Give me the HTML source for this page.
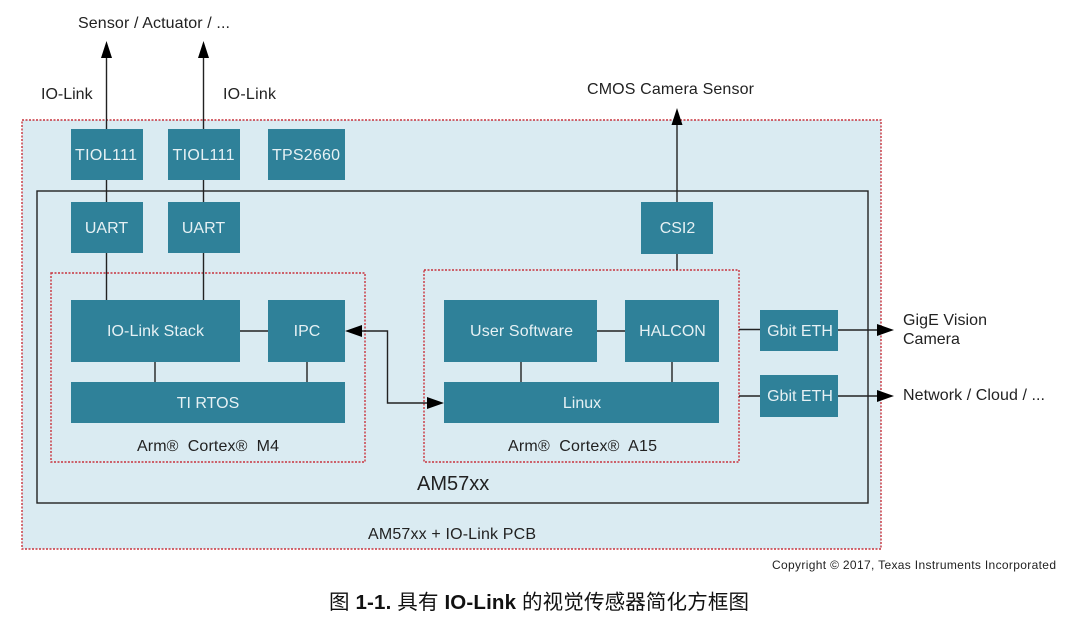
<!DOCTYPE html>
<html><head><meta charset="utf-8"><style>
html,body{margin:0;padding:0;background:#fff}
svg{display:block}
text{font-family:"Liberation Sans","Noto Sans CJK SC",sans-serif;font-size:16px;fill:#222}
.w{fill:#e6f1f4;text-anchor:middle}
.b{fill:#2f8199}
.l{stroke:#222;stroke-width:1.4;fill:none}
.d{stroke:#c8323c;stroke-width:1.4;stroke-dasharray:2 1.5;fill:none}
</style></head><body>
<svg width="1080" height="620" viewBox="0 0 1080 620" xmlns="http://www.w3.org/2000/svg">
<rect width="1080" height="620" fill="#fff"/>
<rect x="22" y="120" width="859" height="429" fill="#daebf2"/>
<rect x="22" y="120" width="859" height="429" class="d"/>
<rect x="37" y="191" width="831" height="312" class="l"/>
<rect x="51" y="273" width="314" height="189" class="d"/>
<rect x="424" y="270" width="315" height="192" class="d"/>
<g class="l">
<path d="M106.5 55V300M203.5 55V300M677 122V270M240 331H268M155 362V382M307 362V382M597 331H625M521 362V382M672 362V382M739 329.500H760M739 396H760M838 330H880M838 396H880M360 331H387.500V403H430"/>
</g>
<g fill="#000">
<path d="M106.500 41L112 58H101ZM203.500 41L209 58H198ZM677 108L682.500 125H671.500ZM345 331L362 325V337ZM444 403L427 397V409ZM894 330L877 324V336ZM894 396L877 390V402Z"/>
</g>
<g class="b">
<rect x="71" y="129" width="72" height="51"/><rect x="168" y="129" width="72" height="51"/><rect x="268" y="129" width="77" height="51"/>
<rect x="71" y="202" width="72" height="51"/><rect x="168" y="202" width="72" height="51"/><rect x="641" y="202" width="72" height="52"/>
<rect x="71" y="300" width="169" height="62"/><rect x="268" y="300" width="77" height="62"/><rect x="71" y="382" width="274" height="41"/>
<rect x="444" y="300" width="153" height="62"/><rect x="625" y="300" width="94" height="62"/><rect x="444" y="382" width="275" height="41"/>
<rect x="760" y="310" width="78" height="41"/><rect x="760" y="375" width="78" height="42"/>
</g>
<g>
<text class="w" x="106" y="160" textLength="62">TIOL111</text><text class="w" x="203.500" y="160" textLength="62">TIOL111</text><text class="w" x="306" y="160" textLength="68">TPS2660</text>
<text class="w" x="106.500" y="233">UART</text><text class="w" x="203.500" y="233">UART</text><text class="w" x="677.500" y="233">CSI2</text>
<text class="w" x="155.500" y="336" textLength="97">IO-Link Stack</text><text class="w" x="307" y="336">IPC</text><text class="w" x="208" y="408">TI RTOS</text>
<text class="w" x="521.500" y="336" textLength="103">User Software</text><text class="w" x="672.500" y="336">HALCON</text><text class="w" x="582" y="408">Linux</text>
<text class="w" x="800" y="336">Gbit ETH</text><text class="w" x="800" y="401">Gbit ETH</text>
</g>
<text x="78" y="28" textLength="152">Sensor / Actuator / ...</text>
<text x="41" y="99">IO-Link</text>
<text x="223" y="99" textLength="53">IO-Link</text>
<text x="587" y="94" textLength="167">CMOS Camera Sensor</text>
<text x="903" y="325" textLength="84">GigE Vision</text>
<text x="903" y="344">Camera</text>
<text x="903" y="400" textLength="142">Network / Cloud / ...</text>
<text x="137" y="451" textLength="142">Arm®&#160; Cortex®&#160; M4</text>
<text x="508" y="451" textLength="149">Arm®&#160; Cortex®&#160; A15</text>
<text x="417" y="490" style="font-size:20px">AM57xx</text>
<text x="368" y="539" textLength="168">AM57xx + IO-Link PCB</text>
<text x="772" y="569" style="font-size:12px" textLength="284">Copyright © 2017, Texas Instruments Incorporated</text>
<text x="329" y="609" style="font-size:20.500px;fill:#111" textLength="420">图 <tspan font-weight="bold">1-1.</tspan> 具有 <tspan font-weight="bold">IO-Link</tspan> 的视觉传感器简化方框图</text>
</svg>
</body></html>
